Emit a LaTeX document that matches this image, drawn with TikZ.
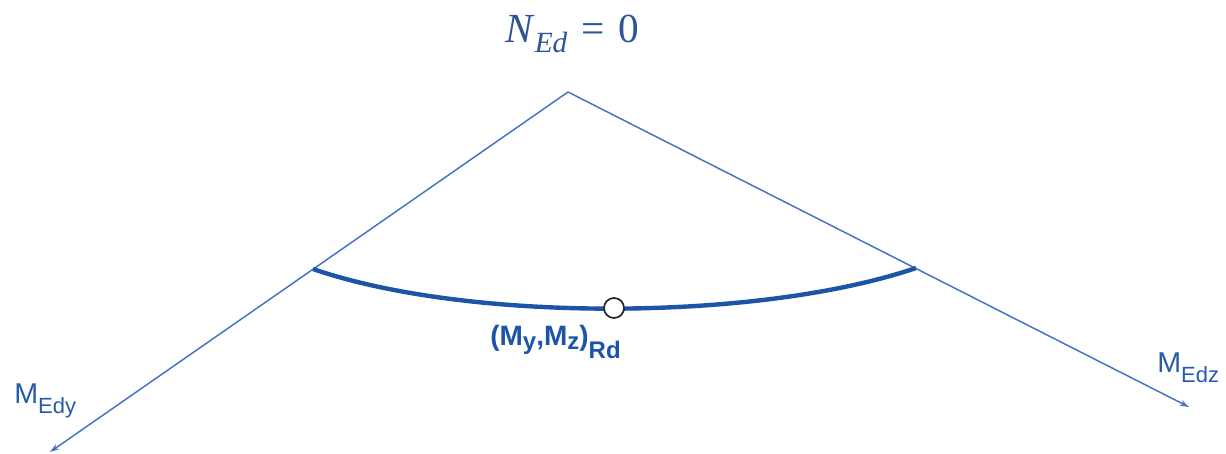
\documentclass[tikz,border=0pt]{standalone}
\usepackage{fontspec}
\setsansfont{Liberation Sans}
\newfontfamily\eqfont{Liberation Serif}
\usepackage{xcolor}
\usetikzlibrary{arrows.meta}

\definecolor{axisblue}{RGB}{68,114,196}
\definecolor{curveblue}{RGB}{28,84,168}
\definecolor{textblue}{RGB}{40,90,170}
\definecolor{mathblue}{RGB}{47,84,150}

\begin{document}
\begin{tikzpicture}[
    x=0.75pt, y=-0.75pt,
    axis/.style={draw=axisblue, line width=1.1pt, -{Stealth[length=7pt, width=4.5pt]}},
    curve/.style={draw=curveblue, line width=3.3pt},
    point/.style={circle, draw=black!85, line width=1.3pt, fill=white, inner sep=0pt, minimum size=15pt},
    axlabel/.style={font=\fontsize{21.5}{24}\sffamily, text=textblue, inner sep=0pt},
    reslabel/.style={font=\fontsize{21}{24}\sffamily\bfseries, text=curveblue, inner sep=0pt}
]
    \useasboundingbox (0,0) rectangle (1226,453);

    \coordinate (apex) at (568,92);
    \coordinate (ytip) at (50,452);
    \coordinate (ztip) at (1189,407);
    \coordinate (left) at (313,269);
    \coordinate (right) at (916,268);

    \draw[axis] (apex) -- (ytip);
    \draw[axis] (apex) -- (ztip);

    % interaction curve
    \draw[curve] (left) .. controls (470,323) and (760,321) .. (right);
    \node[point] (rd) at (614,308) {};

    \node[font=\fontsize{31}{34}\eqfont, text=mathblue, inner sep=0pt, anchor=base west] (ned) at (505,43)
        {\textit{N}\raisebox{-7pt}{\fontsize{22}{24}\selectfont\itshape Ed}\,\,=\,\,0};

    \node[axlabel, anchor=base west] (medy) at (14,403)
        {M\raisebox{-8pt}{\fontsize{16.5}{18}\selectfont Edy}};
    \node[axlabel, anchor=base west] (medz) at (1157,372)
        {M\raisebox{-8pt}{\fontsize{16.5}{18}\selectfont Edz}};
    \node[reslabel, anchor=base west] (mrd) at (490,345)
        {(M\raisebox{-3pt}{\fontsize{18}{20}\selectfont y},M\raisebox{-3pt}{\fontsize{18}{20}\selectfont z})\raisebox{-10pt}{\fontsize{18}{20}\selectfont Rd}};
\end{tikzpicture}
\end{document}
